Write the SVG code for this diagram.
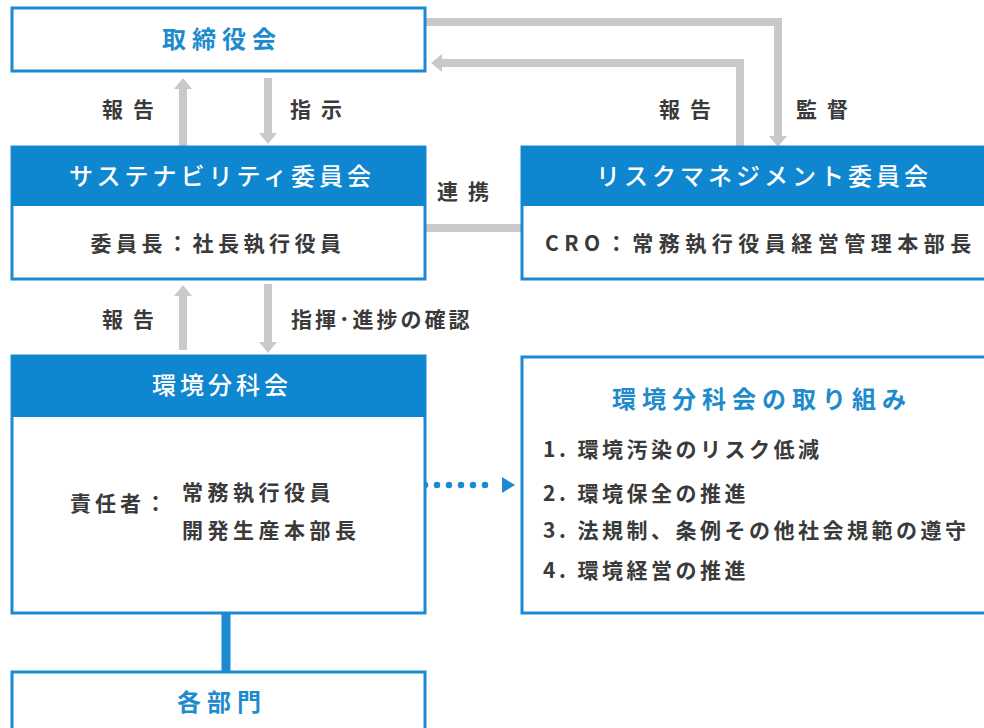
<svg xmlns="http://www.w3.org/2000/svg" width="984" height="728" viewBox="0 0 984 728">
<style>
.box{fill:#fff;stroke:#1b8ad3;stroke-width:3}
.hdr{fill:#0f86d0}
.t{font-family:"Noto Sans CJK JP","Noto Sans",sans-serif;font-weight:700}
.ht{fill:#fff;font-size:24px;letter-spacing:4px;text-anchor:middle;font-weight:500}
.bt{fill:#1e8bcd;font-size:24px;letter-spacing:6px;text-anchor:middle}
.dk{fill:#3a3a3a;font-size:21px}
.g{fill:none;stroke:#c9c9c9;stroke-width:8}
</style>
<defs>
<marker id="ah" markerUnits="userSpaceOnUse" markerWidth="12" markerHeight="20" refX="0" refY="10" orient="auto" overflow="visible">
<path d="M0,1 L11,10 L0,19 z" fill="#c9c9c9"/>
</marker>
</defs>
<g id="connectors">
<line class="g" x1="183" y1="146" x2="183" y2="89" marker-end="url(#ah)"/>
<line class="g" x1="268" y1="78" x2="268" y2="133" marker-end="url(#ah)"/>
<line class="g" x1="183" y1="350" x2="183" y2="296" marker-end="url(#ah)"/>
<line class="g" x1="268" y1="284" x2="268" y2="342" marker-end="url(#ah)"/>
<polyline class="g" points="426,22 778,22 778,136" marker-end="url(#ah)"/>
<polyline class="g" points="740,146 740,63 442,63" marker-end="url(#ah)"/>
<line class="g" x1="426" y1="228" x2="522" y2="228" stroke-width="7"/>
<line x1="226" y1="613" x2="226" y2="672" stroke="#1b8ad3" stroke-width="9"/>
<line x1="425" y1="485" x2="497" y2="485" stroke="#1b8ad3" stroke-width="6.5" stroke-linecap="round" stroke-dasharray="0 12"/>
<polygon points="502,477 515,485 502,493" fill="#1b8ad3"/>
<text class="t dk" x="133" y="117" text-anchor="middle" letter-spacing="10">報告</text>
<text class="t dk" x="290" y="117" letter-spacing="10">指示</text>
<text class="t dk" x="690" y="117" text-anchor="middle" letter-spacing="10">報告</text>
<text class="t dk" x="796" y="117" letter-spacing="10">監督</text>
<text class="t dk" x="437" y="199" letter-spacing="10">連携</text>
<text class="t dk" x="291" y="327" letter-spacing="3">指揮･進捗の確認</text>
<text class="t dk" x="133" y="327" text-anchor="middle" letter-spacing="10">報告</text>
</g>
<g id="board">
<rect class="box" x="12" y="8" width="413" height="63"/>
<text class="t bt" x="222" y="48">取締役会</text>
</g>
<g id="sustainability">
<rect class="box" x="12" y="147" width="413" height="132"/>
<rect class="hdr" x="12" y="146" width="414" height="60"/>
<text class="t ht" x="222" y="185">サステナビリティ委員会</text>
<text class="t dk" x="218" y="251" text-anchor="middle" letter-spacing="4.5">委員長：社長執行役員</text>
</g>
<g id="risk">
<rect class="box" x="522" y="147" width="482" height="132"/>
<rect class="hdr" x="521" y="146" width="484" height="60"/>
<text class="t ht" x="764" y="185">リスクマネジメント委員会</text>
<text class="t dk" x="545" y="251" letter-spacing="5.5" font-weight="500">CRO：常務執行役員経営管理本部長</text>
</g>
<g id="environment">
<rect class="box" x="12" y="356" width="413" height="257"/>
<rect class="hdr" x="12" y="355" width="414" height="62"/>
<text class="t ht" x="222" y="394" letter-spacing="6">環境分科会</text>
<text class="t dk" x="70" y="511" letter-spacing="4">責任者：</text>
<text class="t dk" x="182" y="500" letter-spacing="4.5">常務執行役員</text>
<text class="t dk" x="182" y="538" letter-spacing="4.5">開発生産本部長</text>
</g>
<g id="initiatives">
<rect class="box" x="522" y="357" width="482" height="256"/>
<text class="t bt" x="762" y="408" font-weight="500">環境分科会の取り組み</text>
<text class="t dk" x="543" y="457" letter-spacing="3.5" font-weight="500">1. 環境汚染のリスク低減</text>
<text class="t dk" x="543" y="501" letter-spacing="3.5" font-weight="500">2. 環境保全の推進</text>
<text class="t dk" x="543" y="538" letter-spacing="3.5" font-weight="500">3. 法規制、条例その他社会規範の遵守</text>
<text class="t dk" x="543" y="578" letter-spacing="3.5" font-weight="500">4. 環境経営の推進</text>
</g>
<g id="departments">
<rect class="box" x="12" y="672" width="413" height="70"/>
<text class="t bt" x="222" y="711" letter-spacing="5">各部門</text>
</g>
</svg>
